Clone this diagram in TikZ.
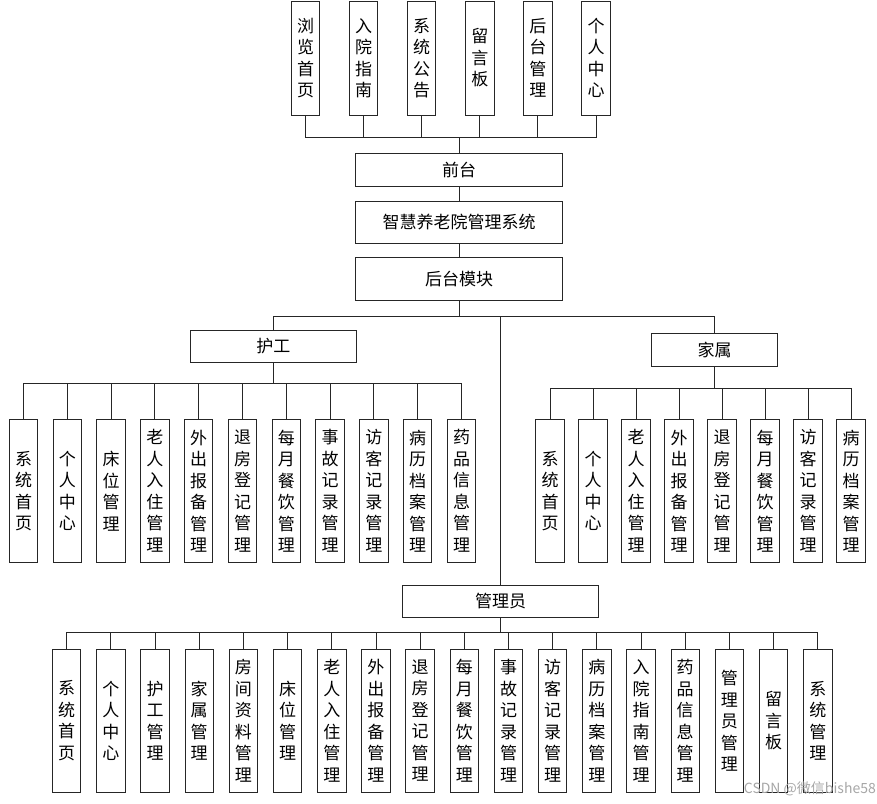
\documentclass[tikz,border=0pt]{standalone}
\usepackage{fontspec}
\setmainfont{Noto Sans CJK SC}
\begin{document}
\begin{tikzpicture}[x=1pt,y=-1pt,
  box/.style={draw=black!85,line width=0.9pt,inner sep=0pt,align=center,
    font=\fontsize{17}{21.5}\selectfont},
  vbox/.style={box,minimum width=28.4pt},
  hbox/.style={box},
  conn/.style={draw=black!85,line width=0.9pt}]
\useasboundingbox (0,0) rectangle (877,803);
% top row
\foreach \t [count=\i] in {{浏\\览\\首\\页},{入\\院\\指\\南},{系\\统\\公\\告},{留\\言\\板},{后\\台\\管\\理},{个\\人\\中\\心}}
  \node[vbox,minimum height=114pt] (t\i) at ({305.5+58.1*(\i-1)},58) {\t};
\node[hbox,minimum width=206.6pt,minimum height=33.4pt] (qt) at (459,170) {前台};
\node[hbox,minimum width=206.6pt,minimum height=42.3pt] (sys) at (459,222.2) {智慧养老院管理系统};
\node[hbox,minimum width=206.6pt,minimum height=42.3pt] (ht) at (459,278.9) {后台模块};
\foreach \i in {1,...,6}
  \draw[conn] (qt.north) -- ++(0,-15.3) -| (t\i.south);
\draw[conn] (qt.south) -- (sys.north);
\draw[conn] (sys.south) -- (ht.north);
% second level
\node[hbox,minimum width=166.7pt,minimum height=32.7pt] (hg) at (273.3,346.4) {护工};
\node[hbox,minimum width=126.6pt,minimum height=33.4pt] (fam) at (714.5,350) {家属};
\node[hbox,minimum width=195.6pt,minimum height=32.7pt] (adm) at (500.6,601.4) {管理员};
\draw[conn] (ht.south) -- ++(0,16) -| (hg.north);
\draw[conn] (ht.south) -- ++(0,16) -| (fam.north);
\draw[conn] (ht.south) -- ++(0,16) -| (adm.north);
% nurse children
\foreach \t [count=\i] in {{系\\统\\首\\页},{个\\人\\中\\心},{床\\位\\管\\理},{老\\人\\入\\住\\管\\理},{外\\出\\报\\备\\管\\理},{退\\房\\登\\记\\管\\理},{每\\月\\餐\\饮\\管\\理},{事\\故\\记\\录\\管\\理},{访\\客\\记\\录\\管\\理},{病\\历\\档\\案\\管\\理},{药\\品\\信\\息\\管\\理}}
{
  \node[vbox,minimum height=143.4pt] (n\i) at ({23.5+43.8*(\i-1)},491) {\t};
  \draw[conn] (hg.south) -- ++(0,20.6) -| (n\i.north);
}
% family children
\foreach \t [count=\i] in {{系\\统\\首\\页},{个\\人\\中\\心},{老\\人\\入\\住\\管\\理},{外\\出\\报\\备\\管\\理},{退\\房\\登\\记\\管\\理},{每\\月\\餐\\饮\\管\\理},{访\\客\\记\\录\\管\\理},{病\\历\\档\\案\\管\\理}}
{
  \node[vbox,minimum height=143.4pt] (f\i) at ({550+43*(\i-1)},491) {\t};
  \draw[conn] (fam.south) -- ++(0,21.6) -| (f\i.north);
}
% admin children
\foreach \t [count=\i] in {{系\\统\\首\\页},{个\\人\\中\\心},{护\\工\\管\\理},{家\\属\\管\\理},{房\\间\\资\\料\\管\\理},{床\\位\\管\\理},{老\\人\\入\\住\\管\\理},{外\\出\\报\\备\\管\\理},{退\\房\\登\\记\\管\\理},{每\\月\\餐\\饮\\管\\理},{事\\故\\记\\录\\管\\理},{访\\客\\记\\录\\管\\理},{病\\历\\档\\案\\管\\理},{入\\院\\指\\南\\管\\理},{药\\品\\信\\息\\管\\理},{管\\理\\员\\管\\理},{留\\言\\板},{系\\统\\管\\理}}
{
  \node[vbox,minimum height=143pt] (a\i) at ({66.7+44.18*(\i-1)},720.8) {\t};
  \draw[conn] (adm.south) -- ++(0,14.6) -| (a\i.north);
}
\node[anchor=east,text=black!35,font=\fontsize{14}{16}\selectfont,inner sep=0pt] (wm) at (876,789) {CSDN @微信bishe58};
\end{tikzpicture}
\end{document}
